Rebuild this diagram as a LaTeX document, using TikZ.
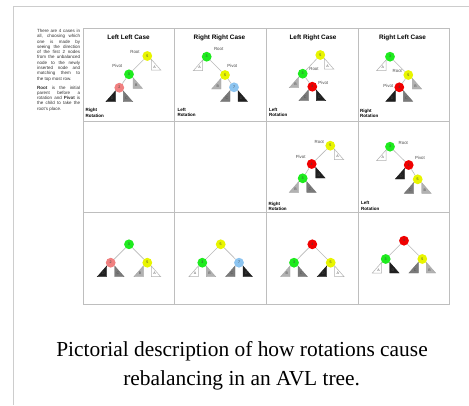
\documentclass[tikz,border=0pt]{standalone}
\usepackage{fontspec}
\setmainfont{Liberation Serif}
\setsansfont{Liberation Sans}
\definecolor{ylw}{RGB}{232,245,0}
\definecolor{grn}{RGB}{30,235,30}
\definecolor{rd}{RGB}{240,0,0}
\definecolor{pnk}{RGB}{240,128,128}
\definecolor{blu}{RGB}{140,196,240}
\definecolor{gridc}{RGB}{190,190,190}
\definecolor{framec}{RGB}{205,205,205}
\tikzset{
  tn/.style={circle,minimum size=9.8pt,inner sep=0pt,font=\sffamily\fontsize{3.6}{4}\selectfont,text=black!75},
  edge/.style={draw=gray!55,line width=0.6pt},
  lbl/.style={font=\sffamily\fontsize{4.4}{5}\selectfont,text=black!70,inner sep=0pt},
  title/.style={font=\sffamily\bfseries\fontsize{6.4}{7}\selectfont,inner sep=0pt},
  rot/.style={font=\sffamily\bfseries\fontsize{4.5}{5.2}\selectfont,align=left,anchor=west,inner sep=0pt},
  tlab/.style={font=\sffamily\fontsize{3.6}{4}\selectfont,text=black!70,inner sep=0pt},
  subA/.style={fill=white,draw=gray!60,line width=0.5pt},
  subB/.style={fill=black!30,draw=black!35,line width=0.4pt},
  subC/.style={fill=black!52,draw=black!55,line width=0.4pt},
  subD/.style={fill=black!88,draw=black!88,line width=0.4pt},
  captxt/.style={anchor=base,inner sep=0pt,font=\fontsize{21.4}{26}\selectfont},
}
% left subtree (vertical right edge) and right subtree (vertical left edge)
\newcommand\lsub[3]{%
  \filldraw[#2] ([shift={(-4,3.3)}]#1.center) -- ([shift={(-13.4,14)}]#1.center) -- ([shift={(-4,14)}]#1.center) -- cycle;
  \node[tlab] at ([shift={(-7.2,10.8)}]#1.center) {#3};}
\newcommand\rsub[3]{%
  \filldraw[#2] ([shift={(4,3.3)}]#1.center) -- ([shift={(13.4,14)}]#1.center) -- ([shift={(4,14)}]#1.center) -- cycle;
  \node[tlab] at ([shift={(7.2,10.8)}]#1.center) {#3};}
\begin{document}
\begin{tikzpicture}[x=1pt,y=-1pt]
\useasboundingbox (0,0) rectangle (469,405);
\fill[white] (0,0) rectangle (469,405);
% outer frame
\draw[framec,line width=1pt] (13,405) -- (13,6) -- (469,6);
% grid
\draw[gridc,line width=0.9pt] (83,28) rectangle (449,304);
\draw[gridc,line width=0.9pt] (174,28) -- (174,304) (266,28) -- (266,304) (358,28) -- (358,304)
  (83,121) -- (449,121) (83,212) -- (449,212);
% explanatory text
\node[anchor=north west,inner sep=0pt,text width=43pt,align=justify,
  font=\sffamily\fontsize{4.5}{5.3}\selectfont,text=black!80] (expl) at (37,29) {%
There are 4 cases in\linebreak all, choosing which\linebreak one is made by\linebreak seeing the direction\linebreak of the first 2 nodes\linebreak from the unbalanced\linebreak node to the newly\linebreak inserted node and\linebreak matching them to\linebreak the top most row.\par\vspace{3.6pt}
\textbf{Root} is the initial\linebreak parent before a\linebreak rotation and \textbf{Pivot} is\linebreak the child to take the\linebreak root's place.};
% titles
\node[title] (t1) at (128.5,37.7) {Left Left Case};
\node[title] (t2) at (219.5,37.7) {Right Right Case};
\node[title] (t3) at (313,37.7) {Left Right Case};
\node[title] (t4) at (402.5,37.7) {Right Left Case};
% rotation labels
\node[rot] (r1) at (85.5,112.8) {Right\\Rotation};
\node[rot] (r2) at (177.3,112.5) {Left\\Rotation};
\node[rot] (r3) at (269,112.5) {Left\\Rotation};
\node[rot] (r4) at (360,113.5) {Right\\Rotation};
\node[rot] (r5) at (268.3,206.5) {Right\\Rotation};
\node[rot] (r6) at (361,205.8) {Left\\Rotation};
% ---- cell 1: Left Left
\node[tn,fill=ylw] (n11a) at (147.3,56) {5};
\node[tn,fill=grn] (n11b) at (129,74.3) {3};
\node[tn,fill=pnk] (n11c) at (119.3,87.7) {2};
\draw[edge] (n11a) -- (n11b) (n11b) -- (n11c);
\rsub{n11a}{subA}{A}\rsub{n11b}{subB}{B}\lsub{n11c}{subD}{D}\rsub{n11c}{subC}{C}
\node[lbl] (l11r) at (135,52.3) {Root};
\node[lbl] (l11p) at (117.3,66) {Pivot};
% ---- cell 2: Right Right
\node[tn,fill=grn] (n12a) at (206.7,56.7) {3};
\node[tn,fill=ylw] (n12b) at (225,75) {5};
\node[tn,fill=blu] (n12c) at (234,87.3) {7};
\draw[edge] (n12a) -- (n12b) (n12b) -- (n12c);
\lsub{n12a}{subA}{A}\lsub{n12b}{subB}{B}\lsub{n12c}{subC}{C}\rsub{n12c}{subD}{D}
\node[lbl] (l12r) at (218.7,49.3) {Root};
\node[lbl] (l12p) at (232.3,66) {Pivot};
% ---- cell 3: Left Right
\node[tn,fill=ylw] (n13a) at (320.3,55) {5};
\node[tn,fill=grn] (n13b) at (302.7,73.7) {3};
\node[tn,fill=rd] (n13c) at (312.3,86.7) {4};
\draw[edge] (n13a) -- (n13b) (n13b) -- (n13c);
\rsub{n13a}{subA}{A}\lsub{n13b}{subB}{B}\lsub{n13c}{subC}{C}\rsub{n13c}{subD}{D}
\node[lbl] (l13r) at (314,69.3) {Root};
\node[lbl] (l13p) at (323.3,82.7) {Pivot};
% ---- cell 4: Right Left
\node[tn,fill=grn] (n14a) at (390,56.7) {3};
\node[tn,fill=ylw] (n14b) at (408.3,75) {5};
\node[tn,fill=rd] (n14c) at (399.3,87.3) {4};
\draw[edge] (n14a) -- (n14b) (n14b) -- (n14c);
\lsub{n14a}{subA}{A}\rsub{n14b}{subB}{B}\lsub{n14c}{subD}{D}\rsub{n14c}{subC}{C}
\node[lbl] (l14r) at (397.3,71) {Root};
\node[lbl] (l14p) at (388.3,86) {Pivot};
% ---- row 2, col 3
\node[tn,fill=ylw] (n23a) at (330.3,145.7) {5};
\node[tn,fill=rd] (n23b) at (311.7,164) {4};
\node[tn,fill=grn] (n23c) at (302.7,178.3) {3};
\draw[edge] (n23a) -- (n23b) (n23b) -- (n23c);
\rsub{n23a}{subA}{A}\rsub{n23b}{subD}{D}\lsub{n23c}{subB}{B}\rsub{n23c}{subC}{C}
\node[lbl] (l23r) at (319.3,142.3) {Root};
\node[lbl] (l23p) at (300.7,156.7) {Pivot};
% ---- row 2, col 4
\node[tn,fill=grn] (n24a) at (390,146.7) {3};
\node[tn,fill=rd] (n24b) at (408.7,165) {4};
\node[tn,fill=ylw] (n24c) at (417.7,179.3) {5};
\draw[edge] (n24a) -- (n24b) (n24b) -- (n24c);
\lsub{n24a}{subA}{A}\lsub{n24b}{subD}{D}\lsub{n24c}{subC}{C}\rsub{n24c}{subB}{B}
\node[lbl] (l24r) at (403.3,143.3) {Root};
\node[lbl] (l24p) at (420,158.3) {Pivot};
% ---- row 3
\node[tn,fill=grn] (n31a) at (129,244.3) {3};
\node[tn,fill=pnk] (n31b) at (110.7,262.7) {2};
\node[tn,fill=ylw] (n31c) at (147.3,262.7) {5};
\draw[edge] (n31a) -- (n31b) (n31a) -- (n31c);
\lsub{n31b}{subD}{D}\rsub{n31b}{subC}{C}\lsub{n31c}{subB}{B}\rsub{n31c}{subA}{A}
\node[tn,fill=ylw] (n32a) at (220.7,244.3) {5};
\node[tn,fill=grn] (n32b) at (202.3,262.7) {3};
\node[tn,fill=blu] (n32c) at (239,262.7) {7};
\draw[edge] (n32a) -- (n32b) (n32a) -- (n32c);
\lsub{n32b}{subA}{A}\rsub{n32b}{subB}{B}\lsub{n32c}{subC}{C}\rsub{n32c}{subD}{D}
\node[tn,fill=rd] (n33a) at (312.3,244.3) {4};
\node[tn,fill=grn] (n33b) at (294,262.7) {3};
\node[tn,fill=ylw] (n33c) at (330.7,262.7) {5};
\draw[edge] (n33a) -- (n33b) (n33a) -- (n33c);
\lsub{n33b}{subB}{B}\rsub{n33b}{subC}{C}\lsub{n33c}{subD}{D}\rsub{n33c}{subA}{A}
\node[tn,fill=rd] (n34a) at (404,240.7) {4};
\node[tn,fill=grn] (n34b) at (385.7,259) {3};
\node[tn,fill=ylw] (n34c) at (422.3,259) {5};
\draw[edge] (n34a) -- (n34b) (n34a) -- (n34c);
\lsub{n34b}{subA}{A}\rsub{n34b}{subD}{D}\lsub{n34c}{subC}{C}\rsub{n34c}{subB}{B}
% caption
\node[captxt] (cap1) at (242,356) {Pictorial description of how rotations cause};
\node[captxt] (cap2) at (241.7,385.5) {rebalancing in an AVL tree.};
\end{tikzpicture}
\end{document}
